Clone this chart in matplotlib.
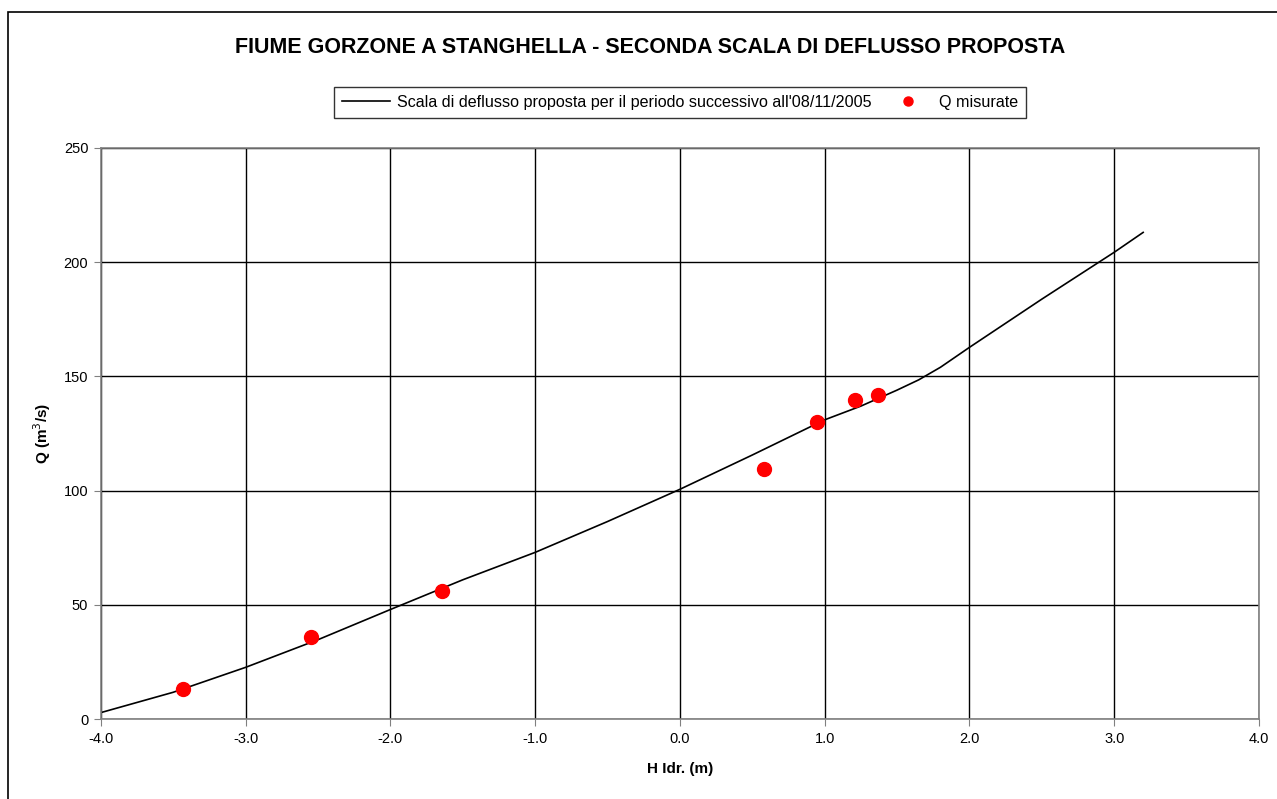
import matplotlib.pyplot as plt
from matplotlib.patches import Rectangle

plt.rcParams['font.family'] = ['Liberation Sans', 'DejaVu Sans']

# scala di deflusso (curva)
h_curve = [-4.0, -3.5, -3.0, -2.5, -2.0, -1.5, -1.0, -0.5, 0.0, 0.5,
           1.0, 1.25, 1.5, 1.65, 1.8, 2.0, 2.5, 3.0, 3.2]
q_curve = [2.9, 11.8, 22.7, 34.8, 48.0, 61.0, 73.0, 86.5, 100.6, 115.6,
           131.0, 137.0, 144.0, 148.5, 154.0, 162.7, 183.8, 204.3, 213.0]

# Q misurate
h_mis = [-3.43, -2.55, -1.64, 0.58, 0.95, 1.21, 1.37]
q_mis = [13.3, 36.0, 56.1, 109.4, 130.2, 139.5, 142.0]

fig = plt.figure(figsize=(12.77, 7.99), dpi=100)
ax = fig.add_axes([0.0789, 0.0998, 0.9070, 0.7152])

ax.plot(h_curve, q_curve, color='black', lw=1.2,
        label="Scala di deflusso proposta per il periodo successivo all'08/11/2005")
ax.plot(h_mis, q_mis, 'o', color='#ff0000', ms=10, mec='#ff0000',
        label='Q misurate', zorder=3)

ax.set_xlim(-4, 4)
ax.set_ylim(0, 250)
ax.set_xticks([-4, -3, -2, -1, 0, 1, 2, 3, 4])
ax.set_xticklabels(['%.1f' % v for v in ax.get_xticks()])
ax.set_yticks([0, 50, 100, 150, 200, 250])
ax.grid(True, color='black', lw=1)
ax.set_axisbelow(True)
for s in ax.spines.values():
    s.set_color('#808080')
    s.set_linewidth(1.2)
ax.tick_params(direction='out', length=5, color='#808080', labelsize=10.5, pad=4)

ax.set_xlabel('H Idr. (m)', fontsize=11, fontweight='bold', labelpad=12)
ax.set_ylabel('Q (m$^3$/s)', fontsize=11, fontweight='bold', labelpad=8)

fig.text(0.509, 0.941, 'FIUME GORZONE A STANGHELLA - SECONDA SCALA DI DEFLUSSO PROPOSTA',
         ha='center', va='center', fontsize=15.5, fontweight='bold')

leg = fig.legend(loc='center', bbox_to_anchor=(0.5325, 0.8717), ncol=2,
                 fontsize=11.6, frameon=True, fancybox=False, handlelength=3,
                 borderpad=0.5, columnspacing=0.8, handletextpad=0.4,
                 markerscale=0.65)
leg.get_frame().set_edgecolor('black')
leg.get_frame().set_linewidth(1)

# bordo area grafico
fig.add_artist(Rectangle((8 / 1277, -0.1), 1.2, 1.1 - 12 / 799, transform=fig.transFigure,
                         fill=False, edgecolor='black', lw=1.2))

fig.savefig('out.png', dpi=100)
